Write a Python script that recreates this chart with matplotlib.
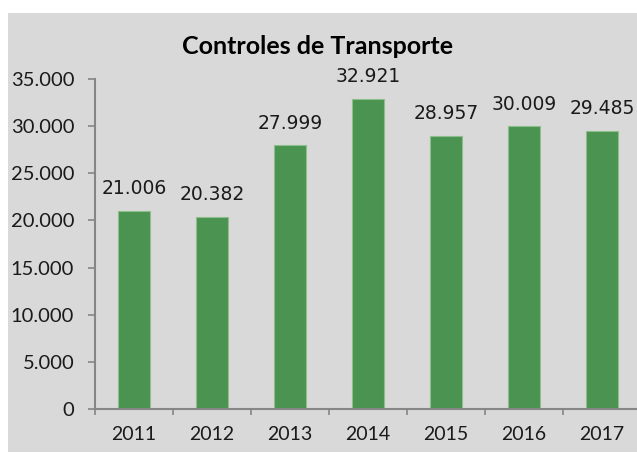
import matplotlib
matplotlib.use("Agg")
import matplotlib.pyplot as plt
from matplotlib.patches import Rectangle
from matplotlib.ticker import FuncFormatter, FixedLocator

# Data
years = ["2011", "2012", "2013", "2014", "2015", "2016", "2017"]
controles = [21006, 20382, 27999, 32921, 28957, 30009, 29485]
y_ticks = [0, 5000, 10000, 15000, 20000, 25000, 30000, 35000]


def miles(v, pos=None):
    return f"{int(v):,}".replace(",", ".")


W, H = 637, 455
fig = plt.figure(figsize=(W / 100, H / 100), dpi=100)
fig.patch.set_facecolor("white")

# grey chart area
bg = fig.add_axes([0, 0, 1, 1], zorder=0)
bg.add_patch(Rectangle((8 / W, 3 / H), 1, 439 / H, facecolor="#d9d9d9", edgecolor="none"))
bg.set_xlim(0, 1)
bg.set_ylim(0, 1)
bg.axis("off")

ax = fig.add_axes([95 / W, 46 / H, 546 / W, 330 / H], zorder=1)
ax.set_facecolor("none")

x = range(len(years))
ax.bar(x, controles, width=0.41, color="#4b9351", edgecolor="#8cbf8c", linewidth=0.8, zorder=2)

for i, v in enumerate(controles):
    ax.annotate(miles(v), (i, v), xytext=(0, 9), textcoords="offset points",
                ha="center", va="bottom", fontsize=13.5, family="DejaVu Sans", color="#1a1a1a")

ax.set_xlim(-0.5, len(years) - 0.5)
ax.set_ylim(0, 35000)
ax.set_yticks(y_ticks)
ax.yaxis.set_major_formatter(FuncFormatter(miles))
ax.set_xticks(list(x))
ax.set_xticklabels(years)
ax.xaxis.set_minor_locator(FixedLocator([i - 0.5 for i in range(len(years) + 1)]))

for s in ["top", "right"]:
    ax.spines[s].set_visible(False)
for s in ["left", "bottom"]:
    ax.spines[s].set_color("#868686")
    ax.spines[s].set_linewidth(1.5)

ax.tick_params(axis="y", length=5, width=1.2, color="#868686", pad=10, labelsize=14.5, labelcolor="#1a1a1a")
ax.tick_params(axis="x", which="major", length=0, pad=12, labelsize=14, labelcolor="#1a1a1a")
ax.tick_params(axis="x", which="minor", length=4, width=1.2, color="#868686")
for lab in ax.get_xticklabels() + ax.get_yticklabels():
    lab.set_family("Lato")

fig.text(318 / W, 1 - 47 / H, "Controles de Transporte", ha="center", va="center",
         fontsize=18, fontweight="bold", family="Lato", color="black")

fig.savefig("out.png", dpi=100)
